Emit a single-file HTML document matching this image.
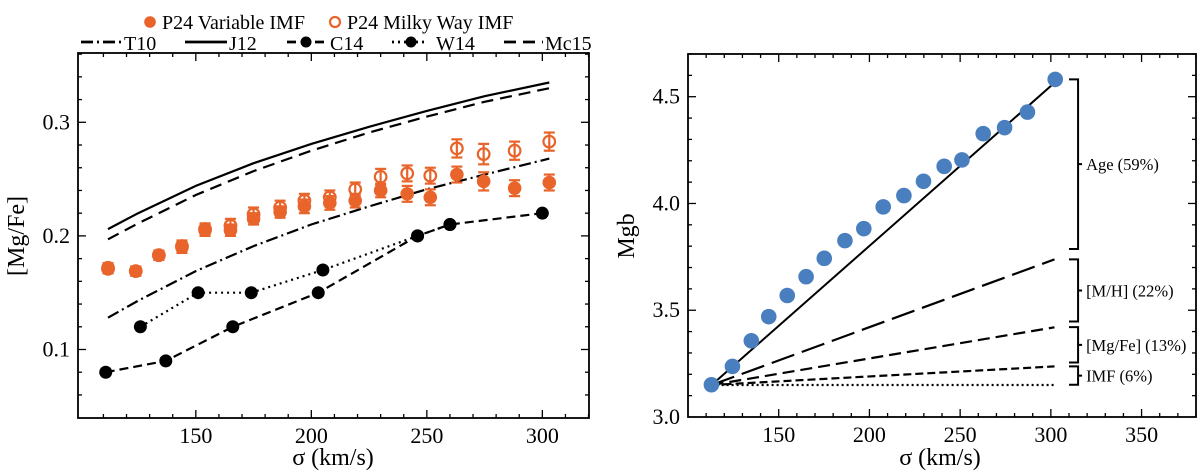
<!DOCTYPE html>
<html><head><meta charset="utf-8"><style>
html,body{margin:0;padding:0;background:#fff;}
svg{display:block;}
svg text{font-family:"Liberation Serif","DejaVu Serif",serif;}
</style></head><body>
<svg id="c" width="1200" height="474" viewBox="0 0 1200 474" xmlns="http://www.w3.org/2000/svg" font-family="Liberation Serif, serif"></svg>
<script>
// ---- Left panel data ----
const sigmaP24 = [112,124,134,144,154,165,175,186.5,197,208,219,230,241.5,251.5,263,274.6,288,303];
const mgfeVar = [0.172,0.169,0.183,0.190,0.205,0.205,0.215,0.221,0.226,0.229,0.231,0.240,0.237,0.234,0.254,0.248,0.242,0.247];
const mgfeMW = [0.171,0.169,0.183,0.191,0.206,0.209,0.219,0.225,0.231,0.234,0.241,0.252,0.255,0.253,0.277,0.272,0.275,0.283];
const errVar = [0.004,0.004,0.004,0.005,0.005,0.005,0.005,0.005,0.006,0.006,0.006,0.006,0.007,0.007,0.007,0.008,0.007,0.007];
const errMW = [0.004,0.004,0.004,0.005,0.005,0.006,0.006,0.006,0.006,0.006,0.006,0.007,0.007,0.007,0.008,0.009,0.008,0.008];
const sigmaModel = [112,125,150,175,200,225,250,275,303];
const j12 = [0.206,0.220,0.244,0.264,0.281,0.296,0.310,0.323,0.335];
const mc15 = [0.197,0.211,0.236,0.257,0.275,0.291,0.305,0.318,0.330];
const t10 = [0.128,0.143,0.169,0.191,0.210,0.226,0.241,0.254,0.268];
const sigmaC14 = [111,137,166,203,246,260,300];
const c14 = [0.080,0.090,0.120,0.150,0.200,0.210,0.220];
const sigmaW14 = [126,151,174,205,246,260];
const w14 = [0.120,0.150,0.150,0.170,0.200,0.210];
const leftXTicks = [150,200,250,300];
const leftYTicks = [0.1,0.2,0.3];
// ---- Right panel data ----
const sigmaMgb = [112.9,124.5,134.9,144.5,154.7,165.1,175.1,186.5,196.9,207.6,219,229.8,241.2,251,262.7,274.5,287.1,302.4];
const mgb = [3.151,3.237,3.357,3.47,3.569,3.657,3.743,3.826,3.882,3.984,4.037,4.104,4.174,4.204,4.327,4.355,4.428,4.581];
const lineSigma = [113,302];
const ageLine = [3.15,4.565];
const mhLine = [3.15,3.738];
const mgfeLine = [3.15,3.42];
const imfLine = [3.15,3.237];
const flatLine = [3.15,3.15];
const bracketLabels = ["Age (59%)","[M/H] (22%)","[Mg/Fe] (13%)","IMF (6%)"];
const bracketLo = [3.787,3.447,3.255,3.151];
const bracketHi = [4.581,3.738,3.421,3.237];
const rightXTicks = [150,200,250,300,350];
const rightYTicks = [3.0,3.5,4.0,4.5];

const NS="http://www.w3.org/2000/svg";
const svg=document.getElementById('c');
const FF='"Liberation Serif", serif';
function mk(tag,attrs,parent){const e=document.createElementNS(NS,tag);for(const k in attrs)e.setAttribute(k,attrs[k]);(parent||svg).appendChild(e);return e;}
function txt(s,attrs,parent){const e=mk('text',attrs,parent);e.setAttribute('font-family',FF);e.style.fontFamily=FF;e.textContent=s;return e;}

const L={x0:78,x1:589,y0:53,y1:418,xmin:99,xmax:320.2,ymin:0.0397,ymax:0.361};
const lx=v=>L.x0+(v-L.xmin)/(L.xmax-L.xmin)*(L.x1-L.x0);
const ly=v=>L.y1-(v-L.ymin)/(L.ymax-L.ymin)*(L.y1-L.y0);
const R={x0:688,x1:1196,y0:54,y1:417,xmin:100,xmax:380,ymin:3.0,ymax:4.7};
const rx=v=>R.x0+(v-R.xmin)/(R.xmax-R.xmin)*(R.x1-R.x0);
const ry=v=>R.y1-(v-R.ymin)/(R.ymax-R.ymin)*(R.y1-R.y0);

function frame(P,name){
  const r=mk('rect',{x:P.x0,y:P.y0,width:P.x1-P.x0,height:P.y1-P.y0,fill:'none',stroke:'#000','stroke-width':1.8});
  
  
}
function ticks(P,fx,fy,xmaj,ymaj,xminStep,yminStep,xfirst,yfirst,yfmt,name){
  const g=mk('g',{stroke:'#000','stroke-width':1.3});
  
  
  for(let v=xfirst;v<=P.xmax+1e-9;v+=xminStep){const X=fx(v);const maj=xmaj.some(t=>Math.abs(t-v)<1e-6);const len=maj?8:4;
    mk('line',{x1:X,x2:X,y1:P.y1,y2:P.y1-len},g);mk('line',{x1:X,x2:X,y1:P.y0,y2:P.y0+len},g);}
  for(let v=yfirst;v<=P.ymax+1e-9;v+=yminStep){const Y=fy(v);const maj=ymaj.some(t=>Math.abs(t-v)<1e-6);const len=maj?8:4;
    mk('line',{x1:P.x0,x2:P.x0+len,y1:Y,y2:Y},g);mk('line',{x1:P.x1,x2:P.x1-len,y1:Y,y2:Y},g);}
  xmaj.forEach(t=>{const e=txt(String(t),{x:fx(t),y:P.y1+25,'font-size':22,'text-anchor':'middle'});
    
    });
  ymaj.forEach(t=>{const e=txt(yfmt(t),{x:P.x0-8,y:fy(t)+7,'font-size':22,'text-anchor':'end'});
    
    });
}
frame(L,'left-plot-area');
ticks(L,lx,ly,leftXTicks,leftYTicks,10,0.02,110,0.06,v=>v.toFixed(1),'left');
frame(R,'right-plot-area');
ticks(R,rx,ry,rightXTicks,rightYTicks,10,0.1,110,3.1,v=>v.toFixed(1),'right');

let e;
e=txt('σ (km/s)',{x:333,y:465,'font-size':24,'text-anchor':'middle'});

e=txt('[Mg/Fe]',{x:0,y:0,'font-size':24,'text-anchor':'middle',transform:'translate(24,236) rotate(-90)'});

e=txt('σ (km/s)',{x:940,y:465,'font-size':24,'text-anchor':'middle'});

e=txt('Mgb',{x:0,y:0,'font-size':24,'text-anchor':'middle',transform:'translate(634,236) rotate(-90)'});


function path(xs,ys,fx,fy,attrs,name){
  const d=xs.map((x,i)=>(i?'L':'M')+fx(x).toFixed(1)+' '+fy(ys[i]).toFixed(1)).join(' ');
  const p=mk('path',Object.assign({d:d,fill:'none',stroke:'#000','stroke-width':2.2},attrs));
  
  
  return p;
}
path(sigmaModel,j12,lx,ly,{},'j12-line');
path(sigmaModel,mc15,lx,ly,{'stroke-dasharray':'12 7'},'mc15-line');
path(sigmaModel,t10,lx,ly,{'stroke-dasharray':'12 4 2 4'},'t10-line');
path(sigmaC14,c14,lx,ly,{'stroke-dasharray':'9 5'},'c14-line');
path(sigmaW14,w14,lx,ly,{'stroke-dasharray':'2 4'},'w14-line');
sigmaC14.forEach((s,i)=>{const c=mk('circle',{cx:lx(s),cy:ly(c14[i]),r:6.5,fill:'#000'});
  });
sigmaW14.forEach((s,i)=>{const c=mk('circle',{cx:lx(s),cy:ly(w14[i]),r:6.5,fill:'#000'});
  });
const OR='#e8642a';
function errbar(x,y,err,name){
  const g=mk('g',{stroke:OR,'stroke-width':2.2});
  
  
  const X=lx(x),Y1=ly(y-err),Y2=ly(y+err);
  mk('line',{x1:X,x2:X,y1:Y1,y2:Y2},g);
  mk('line',{x1:X-5.5,x2:X+5.5,y1:Y1,y2:Y1},g);
  mk('line',{x1:X-5.5,x2:X+5.5,y1:Y2,y2:Y2},g);
}
sigmaP24.forEach((s,i)=>{
  errbar(s,mgfeMW[i],errMW[i],'mw-imf-errorbar');
  const c=mk('circle',{cx:lx(s),cy:ly(mgfeMW[i]),r:5.8,fill:'none',stroke:OR,'stroke-width':2.2});
  
  errbar(s,mgfeVar[i],errVar[i],'variable-imf-errorbar');
  const d=mk('circle',{cx:lx(s),cy:ly(mgfeVar[i]),r:6.8,fill:OR});
  
});

const lg=mk('g',{'font-size':20});


function lgText(s,x,y,name){const t=txt(s,{x:x,y:y,'font-size':20},lg);}
e=mk('circle',{cx:150,cy:22,r:5.8,fill:OR},lg);
lgText('P24 Variable IMF',162,29,'legend-variable-imf');
e=mk('circle',{cx:335,cy:22,r:5,fill:'none',stroke:OR,'stroke-width':2.2},lg);
lgText('P24 Milky Way IMF',347,29,'legend-mw-imf');
function lgLine(x1,x2,dash,name){const l=mk('line',{x1:x1,x2:x2,y1:42,y2:42,stroke:'#000','stroke-width':2.8,'stroke-dasharray':dash},lg);}
lgLine(81,121,'12 4 2 4','legend-t10-line');lgText('T10',124,50,'legend-t10');
lgLine(185,227,'none','legend-j12-line');lgText('J12',229,50,'legend-j12');
lgLine(287,327,'9 5','legend-c14-line');e=mk('circle',{cx:306,cy:42,r:5.5,fill:'#000'},lg);lgText('C14',330,50,'legend-c14');
lgLine(392,428,'2 4','legend-w14-line');e=mk('circle',{cx:411,cy:42,r:5.5,fill:'#000'},lg);lgText('W14',436,50,'legend-w14');
lgLine(504,543,'12 7','legend-mc15-line');lgText('Mc15',545,50,'legend-mc15');

path(lineSigma,flatLine,rx,ry,{'stroke-dasharray':'2 3'},'flat-reference-line');
path(lineSigma,imfLine,rx,ry,{'stroke-dasharray':'8 4'},'imf-line');
path(lineSigma,mgfeLine,rx,ry,{'stroke-dasharray':'12 6'},'mgfe-line');
path(lineSigma,mhLine,rx,ry,{'stroke-dasharray':'24 8'},'mh-line');
path(lineSigma,ageLine,rx,ry,{'stroke-width':2},'age-line');
sigmaMgb.forEach((s,i)=>{const c=mk('circle',{cx:rx(s),cy:ry(mgb[i]),r:7.8,fill:'#4a7fbf'});
  });
bracketLabels.forEach((lab,i)=>{
  const g=mk('g',{stroke:'#000','stroke-width':2,fill:'none'});
  
  
  const xb=rx(315),xl=rx(310),yl=ry(bracketLo[i]),yh=ry(bracketHi[i]),ym=(yl+yh)/2;
  mk('path',{d:`M${xl} ${yh} L${xb} ${yh} L${xb} ${yl} L${xl} ${yl} M${xb} ${ym} L${xb+4} ${ym}`},g);
  const t=txt(lab,{x:xb+8,y:ym+6,'font-size':16.5,fill:'#000',stroke:'none'});
  
  
});
</script>
</body></html>
